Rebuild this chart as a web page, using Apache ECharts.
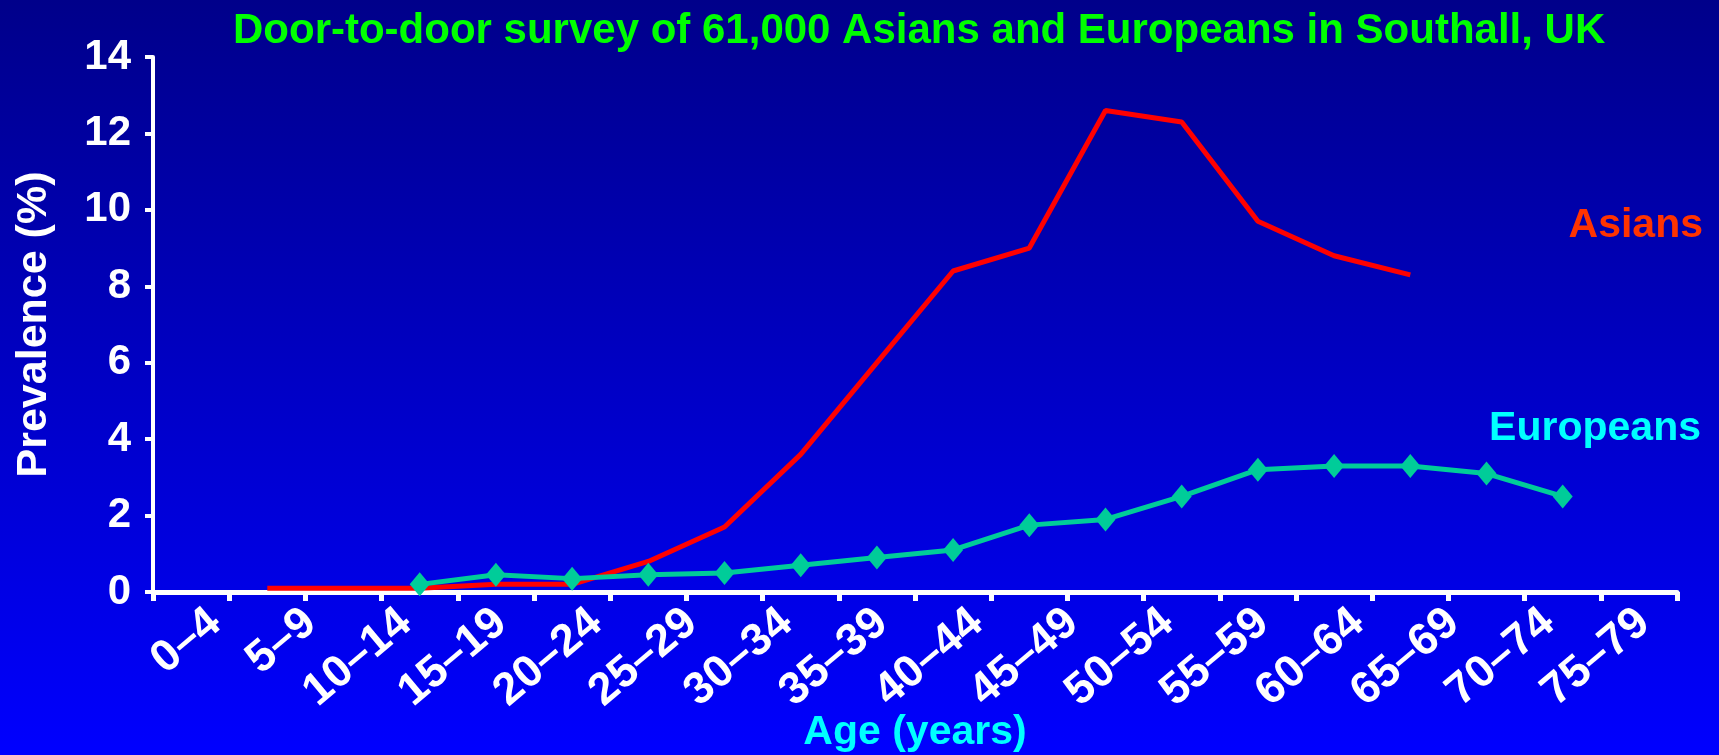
<!DOCTYPE html>
<html>
<head>
<meta charset="utf-8">
<script src="https://cdn.jsdelivr.net/npm/echarts@6/dist/echarts.min.js"></script>
<style>
  html, body { margin: 0; padding: 0; }
  #chart { width: 1719px; height: 755px; }
</style>
</head>
<body>
<div id="chart"></div>
<script>
// Age-group labels shown along the bottom axis
const ageGroups = ['0–4', '5–9', '10–14', '15–19', '20–24', '25–29', '30–34', '35–39',
  '40–44', '45–49', '50–54', '55–59', '60–64', '65–69', '70–74', '75–79'];

// Plotting slots on the data axis (20 bands, one tick at each boundary)
const slots = ['s0', 's1', 's2', 's3', 's4', 's5', 's6', 's7', 's8', 's9',
  's10', 's11', 's12', 's13', 's14', 's15', 's16', 's17', 's18', 's19'];

// Prevalence (%) per slot
const asians = [null, 0.1, 0.1, 0.1, 0.2, 0.2, 0.8, 1.7, 3.6, 6.0, 8.4, 9.0, 12.6, 12.3, 9.7, 8.8, 8.3, null, null, null];
const europeans = [null, null, null, 0.2, 0.45, 0.35, 0.45, 0.5, 0.7, 0.9, 1.1, 1.75, 1.9, 2.5, 3.2, 3.3, 3.3, 3.1, 2.5, null];

// Value-axis ticks
const yMin = 0, yMax = 14, yStep = 2;

const FONT = '"Liberation Sans", Arial, Helvetica, sans-serif';
const gridBox = { left: 153, right: 42, top: 57, bottom: 163 };

const chart = echarts.init(document.getElementById('chart'), null, { renderer: 'canvas' });

chart.setOption({
  animation: false,
  backgroundColor: {
    type: 'linear', x: 0, y: 0, x2: 0, y2: 1,
    colorStops: [
      { offset: 0, color: '#00008a' },
      { offset: 1, color: '#0000ff' }
    ]
  },
  textStyle: { fontFamily: FONT },
  title: {
    text: 'Door-to-door survey of 61,000 Asians and Europeans in Southall, UK',
    left: 228,
    top: 5,
    textStyle: { color: '#00ff00', fontSize: 42, fontWeight: 'bold', fontFamily: FONT }
  },
  grid: [
    Object.assign({ outerBoundsMode: 'none', containLabel: false }, gridBox),
    Object.assign({ outerBoundsMode: 'none', containLabel: false }, gridBox)
  ],
  xAxis: [
    {
      type: 'category',
      gridIndex: 0,
      position: 'bottom',
      data: slots,
      boundaryGap: true,
      axisLine: { show: true, lineStyle: { color: '#ffffff', width: 5 } },
      axisTick: { show: true, interval: 0, length: 9, lineStyle: { color: '#ffffff', width: 5 } },
      axisLabel: { show: false, interval: 0 },
      splitLine: { show: false },
      name: 'Age (years)',
      nameLocation: 'middle',
      nameGap: 120,
      nameTextStyle: { color: '#00ffff', fontSize: 41, fontWeight: 'bold', fontFamily: FONT }
    },
    {
      type: 'category',
      gridIndex: 1,
      position: 'bottom',
      data: ageGroups,
      boundaryGap: true,
      axisLine: { show: false },
      axisTick: { show: false },
      splitLine: { show: false },
      axisLabel: {
        interval: 0, rotate: 40, margin: 8,
        align: 'right', verticalAlign: 'top',
        color: '#ffffff', fontSize: 45, fontWeight: 'bold', fontFamily: FONT
      }
    }
  ],
  yAxis: [
    {
      type: 'value',
      gridIndex: 0,
      min: yMin, max: yMax, interval: yStep,
      axisLine: { show: true, lineStyle: { color: '#ffffff', width: 4 } },
      axisTick: { show: true, length: 8, lineStyle: { color: '#ffffff', width: 4 } },
      splitLine: { show: false },
      axisLabel: {
        color: '#ffffff', fontSize: 42, fontWeight: 'bold', fontFamily: FONT,
        margin: 22, padding: [6, 0, 0, 0]
      },
      name: 'Prevalence (%)',
      nameLocation: 'middle',
      nameRotate: 90,
      nameGap: 97,
      nameTextStyle: { color: '#ffffff', fontSize: 43, fontWeight: 'bold', fontFamily: FONT }
    },
    {
      type: 'value',
      gridIndex: 1,
      min: yMin, max: yMax,
      show: false
    }
  ],
  graphic: [
    {
      type: 'text', right: 16, top: 205,
      style: { text: 'Asians', fill: '#ff3300', font: 'bold 41px ' + FONT }
    },
    {
      type: 'text', right: 18, top: 408,
      style: { text: 'Europeans', fill: '#00ffff', font: 'bold 41px ' + FONT }
    }
  ],
  series: [
    {
      name: 'Asians',
      type: 'line',
      xAxisIndex: 0, yAxisIndex: 0,
      data: asians,
      symbol: 'none',
      lineStyle: { color: '#ff0000', width: 5 },
      itemStyle: { color: '#ff0000' },
      z: 2
    },
    {
      name: 'Europeans',
      type: 'line',
      xAxisIndex: 0, yAxisIndex: 0,
      data: europeans,
      symbol: 'diamond',
      symbolSize: [20, 24],
      showAllSymbol: true,
      lineStyle: { color: '#00cc99', width: 5 },
      itemStyle: { color: '#00cc99' },
      z: 3
    }
  ]
});
</script>
</body>
</html>
